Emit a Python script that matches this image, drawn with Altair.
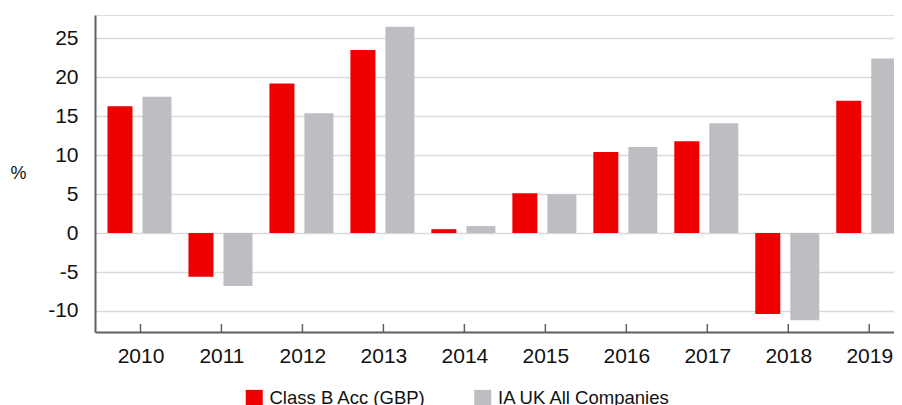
import altair as alt
import pandas as pd

years = [2010, 2011, 2012, 2013, 2014, 2015, 2016, 2017, 2018, 2019]
series_names = ["Class B Acc (GBP)", "IA UK All Companies"]
class_b = [16.3, -5.6, 19.2, 23.5, 0.5, 5.1, 10.4, 11.8, -10.4, 17.0]
ia_uk = [17.5, -6.8, 15.4, 26.5, 0.9, 5.0, 11.05, 14.1, -11.2, 22.4]
y_ticks = [-10, -5, 0, 5, 10, 15, 20, 25]
colors = ["#EE0000", "#BDBEC2"]

rows = []
for y, a, b in zip(years, class_b, ia_uk):
    rows.append({"year": y, "series": series_names[0], "value": a})
    rows.append({"year": y, "series": series_names[1], "value": b})
df = pd.DataFrame(rows)

FONT = "Liberation Sans"
PLOT_W = 799

x_scale = alt.Scale(domain=[2009.5, 2009.5 + PLOT_W / 82], nice=False, zero=False)
x_enc = alt.X(
    "year:Q",
    scale=x_scale,
    axis=alt.Axis(
        title=None, values=years, format="d", labelAngle=0, ticks=False,
        labelPadding=13, labelFontSize=21, labelColor="#111111", labelFont=FONT,
        domainColor="#5f5f5f", domainWidth=2, grid=False, labelFlush=False,
    ),
)
y_enc = alt.Y(
    "value:Q",
    scale=alt.Scale(domain=[-12.7, 28.0], nice=False, zero=False),
    axis=alt.Axis(
        values=y_ticks, title="%", titleAngle=0, titleAlign="center",
        titleBaseline="middle", titleX=-77, titleY=158, titleFontSize=18,
        titleFontWeight="normal", titleFont=FONT, titleColor="#111111",
        labelExpr="datum.value < 0 ? '-' + abs(datum.value) : '' + datum.value",
        ticks=False, labelPadding=17, labelFontSize=21, labelFont=FONT,
        labelColor="#111111", domainColor="#5f5f5f", domainWidth=2,
        grid=True, gridColor="#DADADA", gridWidth=1.7,
    ),
)
color_enc = alt.Color(
    "series:N",
    scale=alt.Scale(domain=series_names, range=colors),
    legend=alt.Legend(
        title=None, orient="none", direction="horizontal", legendX=150,
        legendY=374, symbolType="square", symbolSize=289, symbolStrokeWidth=0,
        labelFontSize=18.5, labelFont=FONT, labelColor="#111111", labelLimit=400,
        labelOffset=6, columnPadding=47.5, padding=0,
    ),
)

base = alt.Chart(df)
red = base.transform_filter(alt.datum.series == series_names[0]).mark_bar(
    size=25, xOffset=-20.5, clip=True
).encode(x=x_enc, y=y_enc, color=color_enc)
grey = base.transform_filter(alt.datum.series == series_names[1]).mark_bar(
    size=29, xOffset=16.5, clip=True
).encode(x=x_enc, y=y_enc, color=color_enc)

ticks = alt.Chart(pd.DataFrame({"year": years})).mark_rule(
    color="#5f5f5f", strokeWidth=1.5
).encode(
    x=alt.X("year:Q", scale=x_scale),
    y=alt.value(317), y2=alt.value(309),
)

chart = alt.layer(red, grey, ticks).properties(
    width=PLOT_W, height=317,
    autosize=alt.AutoSizeParams(type="none"),
    padding={"left": 87, "top": 7, "right": 0, "bottom": 73},
).configure_view(stroke=None).configure(background="white")

chart.save("out.html", embed_options={"renderer": "svg", "actions": False})
